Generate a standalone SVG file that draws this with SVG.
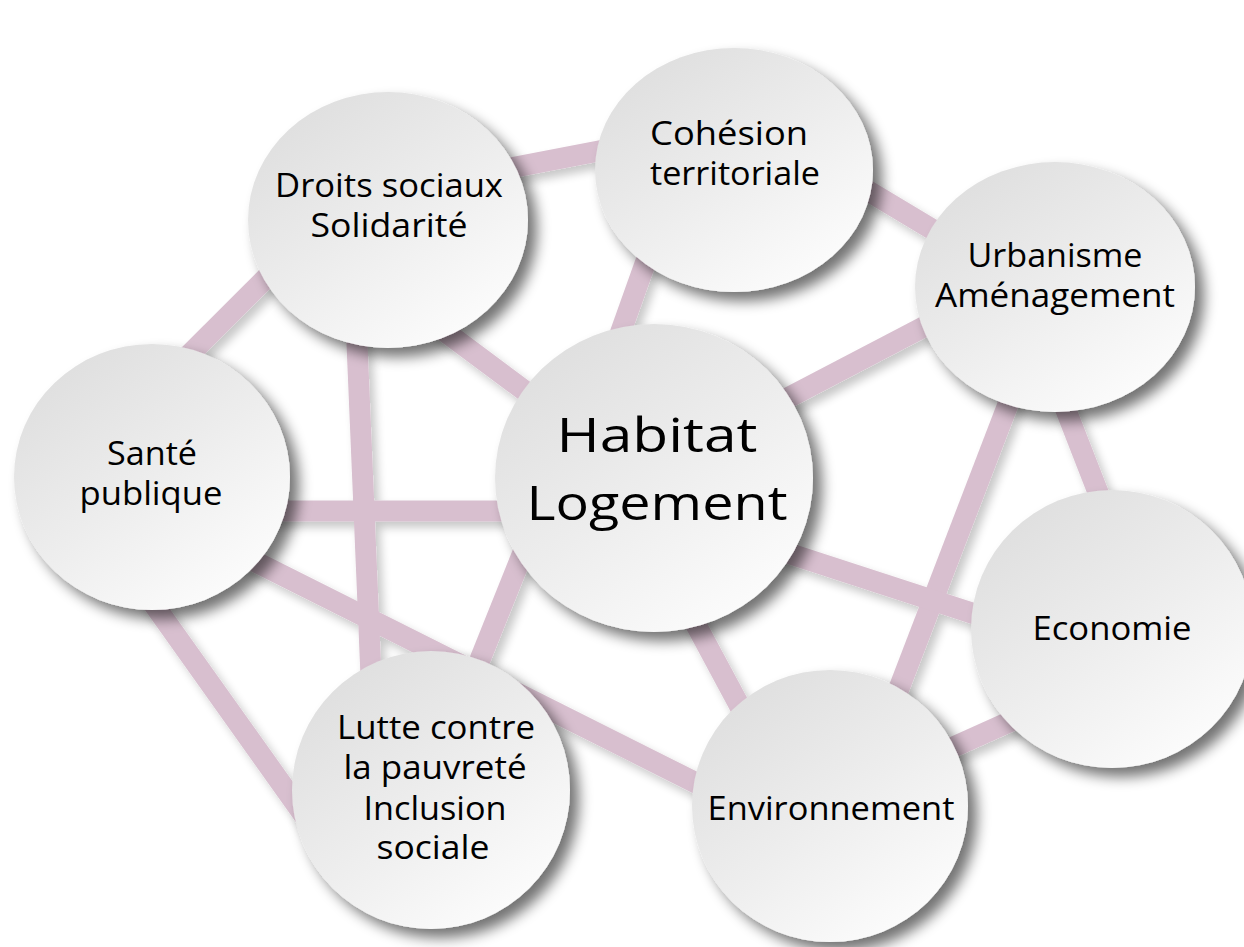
<svg xmlns="http://www.w3.org/2000/svg" width="1244" height="947" viewBox="0 0 1244 947">
  <defs>
    <style>
      .conn { stroke: #d8bfcf; stroke-width: 21; stroke-linecap: butt; fill: none; }
      .disc { fill: url(#discGrad); filter: url(#discShadow); }
      .lbl { font-family: "Open Sans", "Noto Sans", "Liberation Sans", sans-serif; font-weight: 500; fill: #000000; text-anchor: middle; }
      .sm { font-size: 32px; }
      .lg { font-size: 48px; }
    </style>
    <linearGradient id="discGrad" x1="0.15" y1="0.05" x2="0.85" y2="0.95">
      <stop offset="0" stop-color="#dedede"/>
      <stop offset="0.5" stop-color="#ededed"/>
      <stop offset="1" stop-color="#fdfdfd"/>
    </linearGradient>
    <filter id="discShadow" x="-20%" y="-20%" width="150%" height="150%">
      <feGaussianBlur in="SourceAlpha" stdDeviation="7"/>
      <feOffset dx="9" dy="9" result="b"/>
      <feComponentTransfer in="b" result="s">
        <feFuncA type="linear" slope="0.55"/>
      </feComponentTransfer>
      <feMerge>
        <feMergeNode in="s"/>
        <feMergeNode in="SourceGraphic"/>
      </feMerge>
    </filter>
    <filter id="connShadow" x="-10%" y="-10%" width="130%" height="130%">
      <feGaussianBlur in="SourceAlpha" stdDeviation="5"/>
      <feOffset dx="5" dy="6" result="b"/>
      <feComponentTransfer in="b" result="s">
        <feFuncA type="linear" slope="0.22"/>
      </feComponentTransfer>
      <feMerge>
        <feMergeNode in="s"/>
        <feMergeNode in="SourceGraphic"/>
      </feMerge>
    </filter>
  </defs>

  <rect x="0" y="0" width="1244" height="947" fill="#ffffff"/>

  <g id="connectors" filter="url(#connShadow)">
    <line class="conn" x1="500" y1="170" x2="630" y2="145"/>
    <line class="conn" x1="150" y1="394" x2="320" y2="224"/>
    <line class="conn" x1="356" y1="320" x2="372" y2="700"/>
    <line class="conn" x1="400" y1="298" x2="580" y2="432"/>
    <line class="conn" x1="200" y1="511" x2="560" y2="511"/>
    <line class="conn" x1="200" y1="534" x2="760" y2="815"/>
    <line class="conn" x1="130" y1="571" x2="330" y2="852"/>
    <line class="conn" x1="540" y1="510" x2="455" y2="722"/>
    <line class="conn" x1="610" y1="362" x2="672" y2="188"/>
    <line class="conn" x1="740" y1="423" x2="1000" y2="287"/>
    <line class="conn" x1="820" y1="162" x2="980" y2="258"/>
    <line class="conn" x1="1030" y1="347" x2="870" y2="764"/>
    <line class="conn" x1="1055" y1="382" x2="1115" y2="536"/>
    <line class="conn" x1="760" y1="544" x2="1030" y2="632"/>
    <line class="conn" x1="680" y1="595" x2="760" y2="744"/>
    <line class="conn" x1="900" y1="771" x2="1060" y2="699"/>
  </g>

  <g id="node-droits-sociaux">
    <ellipse class="disc" cx="388" cy="220" rx="140" ry="128"/>
    <text class="lbl sm" x="389" y="197" textLength="228" lengthAdjust="spacingAndGlyphs">Droits sociaux</text>
    <text class="lbl sm" x="389" y="237" textLength="157" lengthAdjust="spacingAndGlyphs">Solidarité</text>
  </g>

  <g id="node-cohesion">
    <ellipse class="disc" cx="734" cy="170" rx="139" ry="122"/>
    <text class="lbl sm" x="729" y="145" textLength="158" lengthAdjust="spacingAndGlyphs">Cohésion</text>
    <text class="lbl sm" x="735" y="185" textLength="170" lengthAdjust="spacingAndGlyphs">territoriale</text>
  </g>

  <g id="node-urbanisme">
    <ellipse class="disc" cx="1055" cy="287" rx="140" ry="125"/>
    <text class="lbl sm" x="1055" y="267" textLength="175" lengthAdjust="spacingAndGlyphs">Urbanisme</text>
    <text class="lbl sm" x="1055" y="307" textLength="240" lengthAdjust="spacingAndGlyphs">Aménagement</text>
  </g>

  <g id="node-sante">
    <ellipse class="disc" cx="152" cy="477" rx="138" ry="133"/>
    <text class="lbl sm" x="152" y="465" textLength="90" lengthAdjust="spacingAndGlyphs">Santé</text>
    <text class="lbl sm" x="151" y="505" textLength="143" lengthAdjust="spacingAndGlyphs">publique</text>
  </g>

  <g id="node-habitat">
    <ellipse class="disc" cx="654" cy="478" rx="159" ry="154"/>
    <text class="lbl lg" x="657" y="452" textLength="201" lengthAdjust="spacingAndGlyphs">Habitat</text>
    <text class="lbl lg" x="657" y="520" textLength="261" lengthAdjust="spacingAndGlyphs">Logement</text>
  </g>

  <g id="node-economie">
    <ellipse class="disc" cx="1112" cy="629" rx="141" ry="139"/>
    <text class="lbl sm" x="1112" y="640" textLength="159" lengthAdjust="spacingAndGlyphs">Economie</text>
  </g>

  <g id="node-lutte">
    <ellipse class="disc" cx="431" cy="790" rx="139" ry="139"/>
    <text class="lbl sm" x="436" y="739" textLength="198" lengthAdjust="spacingAndGlyphs">Lutte contre</text>
    <text class="lbl sm" x="435" y="779" textLength="183" lengthAdjust="spacingAndGlyphs">la pauvreté</text>
    <text class="lbl sm" x="435" y="820" textLength="143" lengthAdjust="spacingAndGlyphs">Inclusion</text>
    <text class="lbl sm" x="433" y="859" textLength="113" lengthAdjust="spacingAndGlyphs">sociale</text>
  </g>

  <g id="node-environnement">
    <ellipse class="disc" cx="830" cy="806" rx="138" ry="136"/>
    <text class="lbl sm" x="831" y="820" textLength="247" lengthAdjust="spacingAndGlyphs">Environnement</text>
  </g>
</svg>
